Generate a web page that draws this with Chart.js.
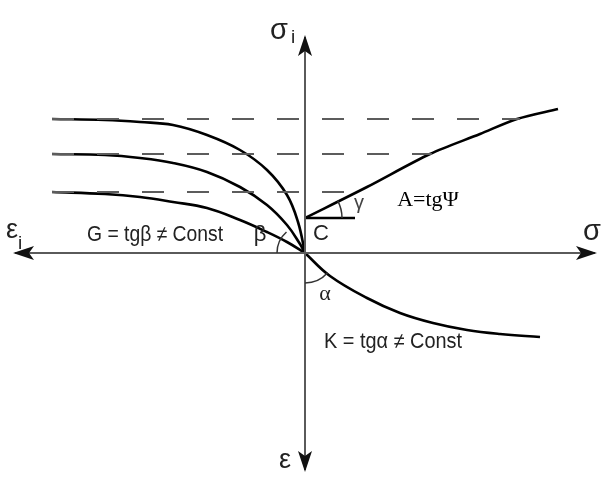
<!DOCTYPE html>
<html>
<head>
<meta charset="utf-8">
<script src="https://cdn.jsdelivr.net/npm/chart.js@4/dist/chart.umd.min.js"></script>
<style>
html,body{margin:0;padding:0;background:#fff;}
#wrap{width:605px;height:480px;}
</style>
</head>
<body>
<div id="wrap"><canvas id="c" width="605" height="480"></canvas></div>
<script>
// ---- data (x: right = sigma, left = eps_i; y: up = sigma_i, down = eps) ----
const topCurveX = [-253, -200, -165, -132, -98, -65, -38, -18, -7, 0];
const topCurveY = [134, 133, 131, 128, 118, 103, 83, 58, 31, 0];
const midCurveX = [-253, -200, -165, -132, -98, -65, -38, -18, -5, 0];
const midCurveY = [99, 98, 95, 90, 81, 66, 48, 28, 9, 0];
const lowCurveX = [-253, -200, -165, -132, -98, -65, -38, -18, 0];
const lowCurveY = [61, 59, 56, 51, 45, 33, 21, 11, 0];
const kCurveX = [0, 25, 62, 95, 128, 162, 195, 235];
const kCurveY = [0, -23, -45, -60, -70, -77, -81, -84];
const aLineX = [0, 62, 125, 175, 212, 253];
const aLineY = [35, 66, 99, 119, 134, 144];
const cTickX = [0, 50];
const cTickY = [35, 35];
const dashLevels = [134, 99, 61];
const dashStart = -253;
const dashEnds = [215, 127, 45];
const axisXEnds = [-290, 290];
const axisYEnds = [216, -217];

const pts = (xs, ys) => xs.map((v, i) => ({x: v, y: ys[i]}));

const curveStyle = {showLine: true, borderColor: '#000', borderWidth: 2.6, pointRadius: 0, fill: false, tension: 0.4};
const datasets = [];
// axes
datasets.push({data: [{x: axisXEnds[0], y: 0}, {x: axisXEnds[1], y: 0}], showLine: true, borderColor: '#5a5a5a', borderWidth: 2, pointRadius: 0});
datasets.push({data: [{x: 0, y: axisYEnds[0]}, {x: 0, y: axisYEnds[1]}], showLine: true, borderColor: '#5a5a5a', borderWidth: 2, pointRadius: 0});
// dashed levels
dashLevels.forEach((lv, i) => {
  datasets.push({data: [{x: dashStart, y: lv}, {x: dashEnds[i], y: lv}], showLine: true, borderColor: '#5c5c5c', borderWidth: 2, borderDash: [22, 23], pointRadius: 0});
});
datasets.push(Object.assign({data: pts(topCurveX, topCurveY)}, curveStyle));
datasets.push(Object.assign({data: pts(midCurveX, midCurveY)}, curveStyle));
datasets.push(Object.assign({data: pts(lowCurveX, lowCurveY)}, curveStyle));
datasets.push(Object.assign({data: pts(kCurveX, kCurveY)}, curveStyle));
datasets.push(Object.assign({data: pts(aLineX, aLineY)}, curveStyle, {tension: 0.3}));
datasets.push({data: pts(cTickX, cTickY), showLine: true, borderColor: '#000', borderWidth: 2.5, pointRadius: 0});

const SANS = '"Liberation Sans", Arial, sans-serif';
const SERIF = '"Liberation Serif", "Times New Roman", serif';
const labels = [
  {t: 'σ', x: -26, y: 222, f: '29px ' + SANS},
  {t: 'i', x: -12, y: 215, f: '19px ' + SANS},
  {t: 'ε', x: -293, y: 22, f: '27px ' + SANS},
  {t: 'i', x: -285, y: 9, f: '19px ' + SANS},
  {t: 'σ', x: 287, y: 21, f: '29px ' + SANS},
  {t: 'ε', x: -20, y: -208, f: '27px ' + SANS},
  {t: 'G = tgβ ≠ Const', x: -150, y: 18, f: '22px ' + SANS, w: 136},
  {t: 'β', x: -45, y: 18, f: '22px ' + SANS},
  {t: 'C', x: 16, y: 19, f: '22px ' + SANS},
  {t: 'α', x: 20, y: -41, f: '22px ' + SERIF},
  {t: 'γ', x: 54, y: 50, f: '20px ' + SANS, c: '#444'},
  {t: 'A=tgΨ', x: 123, y: 53, f: '22px ' + SERIF, c: '#000'},
  {t: 'K = tgα ≠ Const', x: 88, y: -89, f: '22px ' + SANS, w: 138}
];
const arrows = [
  {x: axisXEnds[0], y: 0, a: Math.PI},
  {x: axisXEnds[1], y: 0, a: 0},
  {x: 0, y: axisYEnds[0], a: -Math.PI / 2},
  {x: 0, y: axisYEnds[1], a: Math.PI / 2}
];
const arcs = [
  {cx: 0, cy: 0, r: 28, a0: Math.PI, a1: Math.PI * 1.27},
  {cx: 0, cy: 0, r: 30, a0: 0.72, a1: Math.PI / 2},
  {cx: 0, cy: 35, r: 37, a0: -0.49, a1: 0}
];

const decor = {
  id: 'decor',
  afterDatasetsDraw(chart) {
    const ctx = chart.ctx, xs = chart.scales.x, ys = chart.scales.y;
    const X = v => xs.getPixelForValue(v), Y = v => ys.getPixelForValue(v);
    ctx.save();
    ctx.fillStyle = '#111';
    arrows.forEach(ar => {
      ctx.save();
      ctx.translate(X(ar.x), Y(ar.y));
      ctx.rotate(ar.a);
      ctx.beginPath();
      ctx.moveTo(2, 0);
      ctx.lineTo(-19, -7);
      ctx.lineTo(-14, 0);
      ctx.lineTo(-19, 7);
      ctx.closePath();
      ctx.fill();
      ctx.restore();
    });
    ctx.strokeStyle = '#333';
    ctx.lineWidth = 1.5;
    arcs.forEach(a => {
      ctx.beginPath();
      ctx.arc(X(a.cx), Y(a.cy), a.r, a.a0, a.a1);
      ctx.stroke();
    });
    ctx.textAlign = 'center';
    ctx.textBaseline = 'middle';
    labels.forEach(l => {
      ctx.font = l.f;
      ctx.fillStyle = l.c || '#222';
      if (l.w) ctx.fillText(l.t, X(l.x), Y(l.y), l.w);
      else ctx.fillText(l.t, X(l.x), Y(l.y));
    });
    ctx.restore();
  }
};

new Chart(document.getElementById('c'), {
  type: 'scatter',
  data: {datasets},
  options: {
    responsive: false,
    animation: false,
    devicePixelRatio: 1,
    layout: {padding: 0},
    plugins: {legend: {display: false}, tooltip: {enabled: false}},
    elements: {line: {borderCapStyle: 'butt'}},
    scales: {
      x: {type: 'linear', min: -305, max: 300, display: false},
      y: {type: 'linear', min: -227, max: 253, display: false}
    }
  },
  plugins: [decor]
});
</script>
</body>
</html>
